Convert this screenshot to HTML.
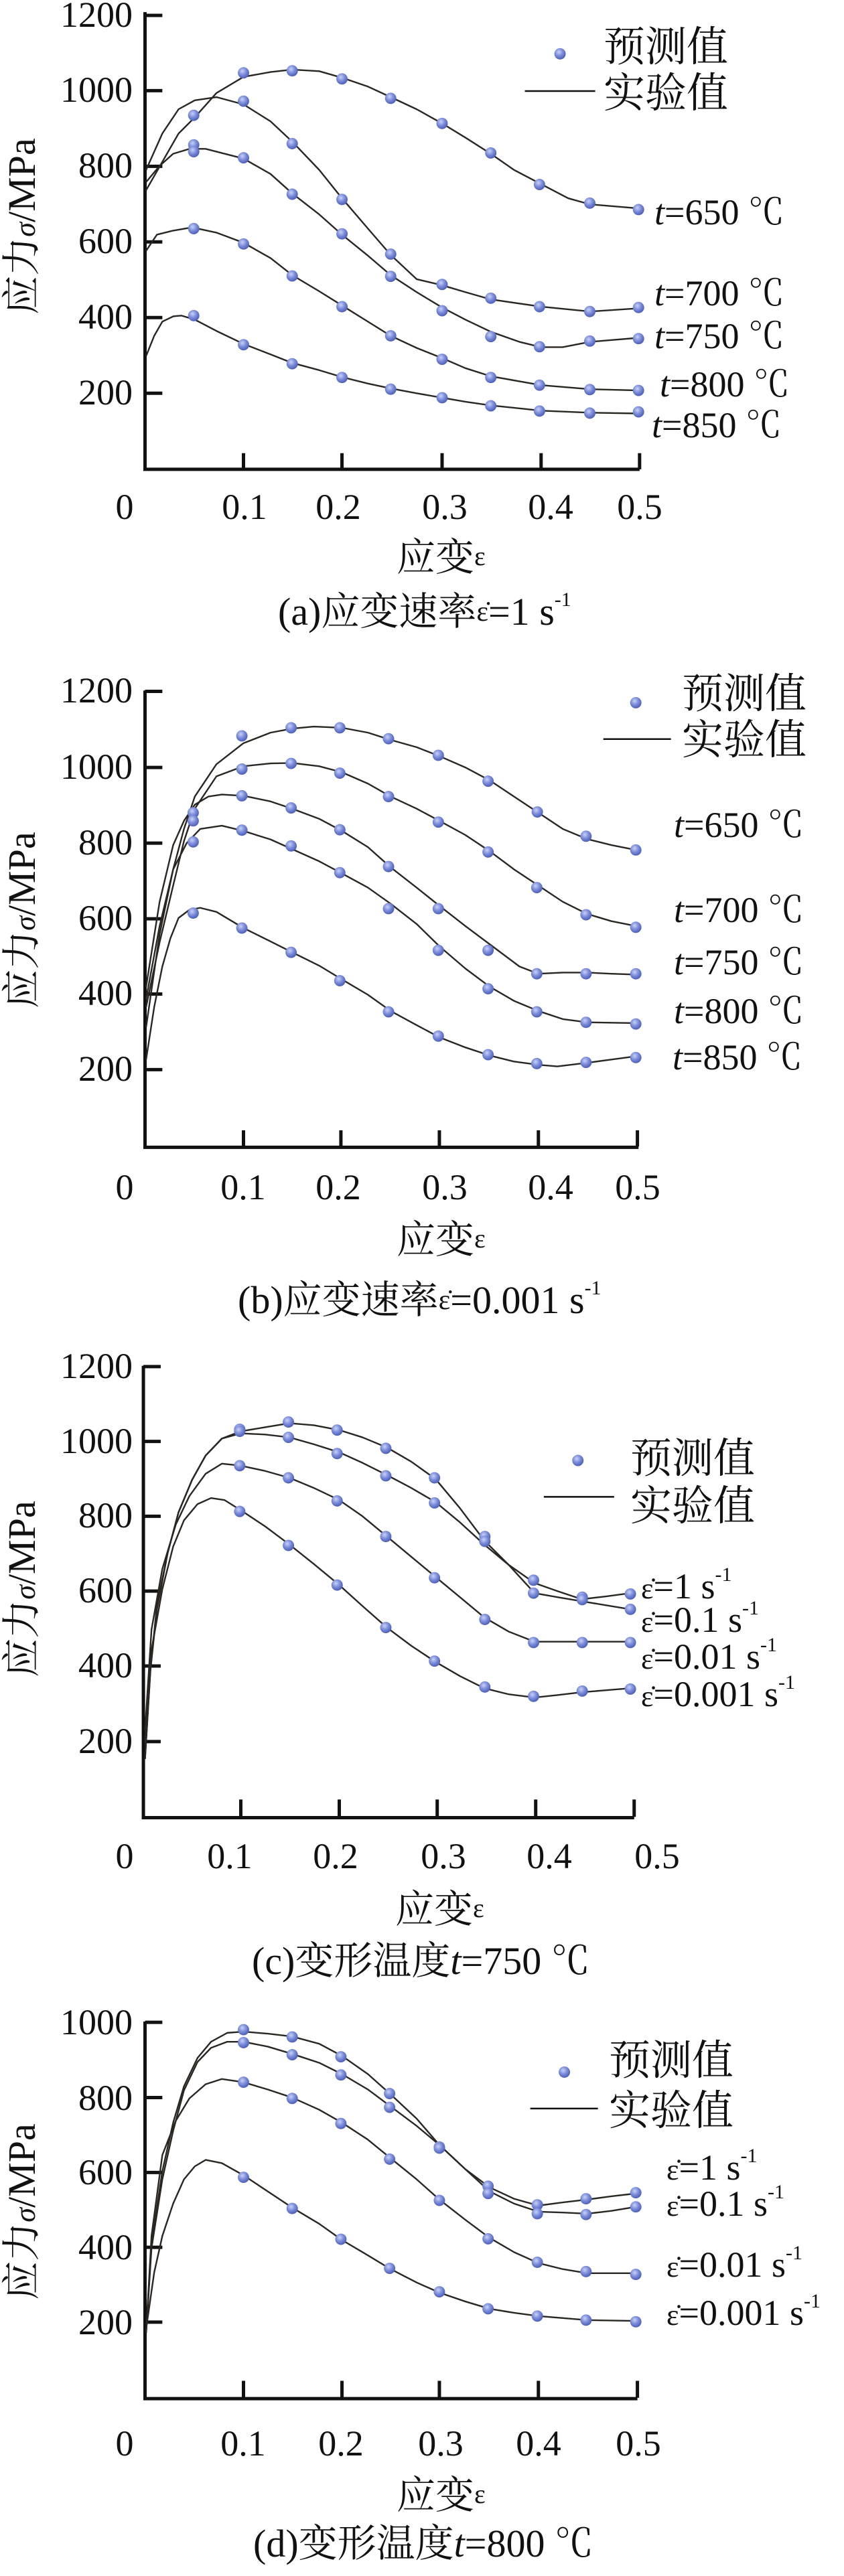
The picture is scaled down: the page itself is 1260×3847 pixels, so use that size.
<!DOCTYPE html>
<html><head><meta charset="utf-8"><style>
html,body{margin:0;padding:0;background:#fff}
svg{display:block}
text{font-family:"Liberation Serif","Noto Serif CJK SC",serif;fill:#111}
.ax{fill:none;stroke:#111;stroke-width:5;vector-effect:non-scaling-stroke}
.cv{fill:none;stroke:#2a2622;stroke-width:2.4;stroke-linejoin:round;vector-effect:non-scaling-stroke}
.tk{font-size:54px}
.lb{font-size:58px}
</style></head><body>
<svg width="1260" height="3847" viewBox="0 0 1260 3847" xmlns="http://www.w3.org/2000/svg">
<defs>
<radialGradient id="g" cx="0.4" cy="0.35" r="0.65">
<stop offset="0" stop-color="#c9d2f5"/><stop offset="0.5" stop-color="#7e8fdc"/><stop offset="1" stop-color="#4d5fb8"/>
</radialGradient>
</defs>

<!-- ============ PANEL A ============ -->
<g transform="translate(0,0) scale(0.8078,0.6042)">
<path class="ax" d="M268 30 V1160 H1182 M268 38 H300 M268 224 H300 M268 411 H300 M268 598 H300 M268 785 H300 M268 972 H300 M450 1120 V1160 M632 1120 V1160 M817 1120 V1160 M1000 1120 V1160 M1182 1120 V1160"/>
<polyline class="cv" points="270,470 300,400 330,330 360,290 400,230 450,190 500,178 540,172 590,176 632,192 680,214 722,240 770,270 817,305 860,340 907,380 950,420 1000,455 1050,490 1090,505 1180,515"/>
<polyline class="cv" points="270,420 300,330 330,270 360,248 400,240 450,258 500,300 540,350 590,420 632,490 680,565 722,630 770,690 817,705 860,722 907,740 1000,758 1090,770 1180,762"/>
<polyline class="cv" points="270,450 295,410 320,380 350,368 380,368 450,392 500,430 540,478 590,530 632,580 680,632 722,680 770,722 817,760 860,790 907,820 960,845 1000,858 1040,858 1090,845 1180,835"/>
<polyline class="cv" points="270,620 290,580 320,570 355,562 400,575 450,600 500,638 540,680 590,720 632,755 680,795 722,830 770,860 817,885 860,910 907,930 1000,952 1090,962 1180,965"/>
<polyline class="cv" points="270,880 285,830 300,795 320,782 335,780 360,790 400,818 450,850 500,876 540,897 590,915 632,932 680,948 722,960 770,972 817,983 860,993 907,1002 1000,1015 1090,1020 1180,1022"/>
<g fill="url(#g)">
<ellipse cx="358" cy="285" rx="10.5" ry="14"/><ellipse cx="358" cy="358" rx="10.5" ry="14"/><ellipse cx="358" cy="375" rx="10.5" ry="14"/><ellipse cx="358" cy="565" rx="10.5" ry="14"/><ellipse cx="358" cy="780" rx="10.5" ry="14"/>
<ellipse cx="450" cy="180" rx="10.5" ry="14"/><ellipse cx="540" cy="175" rx="10.5" ry="14"/><ellipse cx="632" cy="195" rx="10.5" ry="14"/><ellipse cx="722" cy="243" rx="10.5" ry="14"/><ellipse cx="817" cy="305" rx="10.5" ry="14"/><ellipse cx="907" cy="378" rx="10.5" ry="14"/><ellipse cx="997" cy="456" rx="10.5" ry="14"/><ellipse cx="1090" cy="502" rx="10.5" ry="14"/><ellipse cx="1180" cy="518" rx="10.5" ry="14"/>
<ellipse cx="450" cy="250" rx="10.5" ry="14"/><ellipse cx="540" cy="355" rx="10.5" ry="14"/><ellipse cx="632" cy="493" rx="10.5" ry="14"/><ellipse cx="722" cy="628" rx="10.5" ry="14"/><ellipse cx="817" cy="703" rx="10.5" ry="14"/><ellipse cx="907" cy="737" rx="10.5" ry="14"/><ellipse cx="997" cy="758" rx="10.5" ry="14"/><ellipse cx="1090" cy="770" rx="10.5" ry="14"/><ellipse cx="1180" cy="760" rx="10.5" ry="14"/>
<ellipse cx="450" cy="390" rx="10.5" ry="14"/><ellipse cx="540" cy="480" rx="10.5" ry="14"/><ellipse cx="632" cy="578" rx="10.5" ry="14"/><ellipse cx="722" cy="683" rx="10.5" ry="14"/><ellipse cx="817" cy="768" rx="10.5" ry="14"/><ellipse cx="907" cy="832" rx="10.5" ry="14"/><ellipse cx="997" cy="857" rx="10.5" ry="14"/><ellipse cx="1090" cy="843" rx="10.5" ry="14"/><ellipse cx="1180" cy="837" rx="10.5" ry="14"/>
<ellipse cx="450" cy="603" rx="10.5" ry="14"/><ellipse cx="540" cy="682" rx="10.5" ry="14"/><ellipse cx="632" cy="758" rx="10.5" ry="14"/><ellipse cx="722" cy="830" rx="10.5" ry="14"/><ellipse cx="817" cy="888" rx="10.5" ry="14"/><ellipse cx="907" cy="933" rx="10.5" ry="14"/><ellipse cx="997" cy="952" rx="10.5" ry="14"/><ellipse cx="1090" cy="963" rx="10.5" ry="14"/><ellipse cx="1180" cy="965" rx="10.5" ry="14"/>
<ellipse cx="450" cy="852" rx="10.5" ry="14"/><ellipse cx="540" cy="899" rx="10.5" ry="14"/><ellipse cx="632" cy="933" rx="10.5" ry="14"/><ellipse cx="722" cy="962" rx="10.5" ry="14"/><ellipse cx="817" cy="983" rx="10.5" ry="14"/><ellipse cx="907" cy="1003" rx="10.5" ry="14"/><ellipse cx="997" cy="1016" rx="10.5" ry="14"/><ellipse cx="1090" cy="1021" rx="10.5" ry="14"/><ellipse cx="1180" cy="1018" rx="10.5" ry="14"/>
<ellipse cx="1035" cy="133" rx="10.5" ry="14"/>
</g>
<path class="ax" style="stroke-width:2.5" d="M970 225 H1100"/>
</g>
<g class="tk" text-anchor="end">
<text x="198" y="40">1200</text><text x="198" y="152">1000</text><text x="198" y="265">800</text><text x="198" y="378">600</text><text x="198" y="491">400</text><text x="198" y="604">200</text>
</g>
<g class="tk" text-anchor="middle">
<text x="186" y="775">0</text><text x="365" y="775">0.1</text><text x="505" y="775">0.2</text><text x="664" y="775">0.3</text><text x="822" y="775">0.4</text><text x="955" y="775">0.5</text>
</g>
<g class="tk">
<text x="977" y="335"><tspan font-style="italic">t</tspan>=650 ℃</text>
<text x="977" y="456"><tspan font-style="italic">t</tspan>=700 ℃</text>
<text x="977" y="520"><tspan font-style="italic">t</tspan>=750 ℃</text>
<text x="985" y="592"><tspan font-style="italic">t</tspan>=800 ℃</text>
<text x="973" y="653"><tspan font-style="italic">t</tspan>=850 ℃</text>
</g>
<text class="lb" x="901" y="91" style="font-size:62px">预测值</text>
<text class="lb" x="901" y="160" style="font-size:62px">实验值</text>
<text class="lb" x="592" y="852">应变<tspan font-size="40" dy="-8">ε</tspan></text>
<text class="lb" x="415" y="933">(a)应变速率<tspan font-size="42" dy="-6">ε̇</tspan><tspan dy="6">=1 s</tspan><tspan font-size="30" dy="-28">-1</tspan></text>
<text class="lb" transform="translate(52,338) rotate(-90)" text-anchor="middle">应力<tspan font-style="italic" font-size="44">σ</tspan>/MPa</text>

<!-- ============ PANEL B ============ -->
<g transform="translate(0,960) scale(0.8078,0.6042)">
<path class="ax" d="M268 118 V1247 H1180 M268 120 H300 M268 308 H300 M268 495 H300 M268 682 H300 M268 868 H300 M268 1055 H300 M450 1205 V1245 M630 1205 V1245 M812 1205 V1245 M995 1205 V1245 M1178 1205 V1245"/>
<polyline class="cv" points="270,880 295,700 320,560 340,460 360,380 400,300 450,248 500,222 540,212 580,207 632,210 680,222 722,240 770,258 812,280 860,308 905,340 950,380 995,420 1040,460 1085,485 1130,500 1175,512"/>
<polyline class="cv" points="270,900 295,740 320,600 340,490 360,410 400,330 450,305 500,298 540,297 590,305 632,320 680,348 722,380 770,410 812,440 860,475 905,515 950,560 995,600 1040,640 1085,670 1130,688 1175,700"/>
<polyline class="cv" points="270,850 295,640 320,500 340,440 360,400 385,380 410,375 450,378 500,392 540,410 590,435 632,465 680,505 722,555 770,605 812,650 860,700 905,745 960,800 995,818 1040,815 1085,815 1130,818 1175,820"/>
<polyline class="cv" points="270,950 295,720 320,560 345,495 370,460 410,452 450,465 500,486 540,510 590,540 632,570 680,605 722,645 770,695 812,750 860,805 905,850 950,885 995,910 1040,930 1085,938 1175,940"/>
<polyline class="cv" points="270,1030 285,900 300,800 315,730 330,680 350,660 370,655 400,665 450,705 500,738 540,765 590,798 632,832 680,870 722,910 770,945 812,975 860,1000 905,1020 950,1035 995,1043 1030,1047 1085,1038 1130,1030 1175,1022"/>
<g fill="url(#g)">
<ellipse cx="357" cy="420" rx="10.5" ry="14"/><ellipse cx="357" cy="440" rx="10.5" ry="14"/><ellipse cx="357" cy="492" rx="10.5" ry="14"/><ellipse cx="357" cy="668" rx="10.5" ry="14"/>
<ellipse cx="447" cy="230" rx="10.5" ry="14"/><ellipse cx="538" cy="210" rx="10.5" ry="14"/><ellipse cx="628" cy="210" rx="10.5" ry="14"/><ellipse cx="718" cy="237" rx="10.5" ry="14"/><ellipse cx="810" cy="278" rx="10.5" ry="14"/><ellipse cx="902" cy="342" rx="10.5" ry="14"/><ellipse cx="993" cy="418" rx="10.5" ry="14"/><ellipse cx="1083" cy="478" rx="10.5" ry="14"/><ellipse cx="1175" cy="512" rx="10.5" ry="14"/>
<ellipse cx="447" cy="312" rx="10.5" ry="14"/><ellipse cx="538" cy="298" rx="10.5" ry="14"/><ellipse cx="628" cy="322" rx="10.5" ry="14"/><ellipse cx="718" cy="380" rx="10.5" ry="14"/><ellipse cx="810" cy="443" rx="10.5" ry="14"/><ellipse cx="902" cy="517" rx="10.5" ry="14"/><ellipse cx="992" cy="605" rx="10.5" ry="14"/><ellipse cx="1083" cy="672" rx="10.5" ry="14"/><ellipse cx="1175" cy="703" rx="10.5" ry="14"/>
<ellipse cx="447" cy="378" rx="10.5" ry="14"/><ellipse cx="538" cy="408" rx="10.5" ry="14"/><ellipse cx="628" cy="462" rx="10.5" ry="14"/><ellipse cx="718" cy="553" rx="10.5" ry="14"/><ellipse cx="810" cy="657" rx="10.5" ry="14"/><ellipse cx="902" cy="760" rx="10.5" ry="14"/><ellipse cx="992" cy="818" rx="10.5" ry="14"/><ellipse cx="1083" cy="818" rx="10.5" ry="14"/><ellipse cx="1175" cy="818" rx="10.5" ry="14"/>
<ellipse cx="447" cy="463" rx="10.5" ry="14"/><ellipse cx="538" cy="502" rx="10.5" ry="14"/><ellipse cx="628" cy="568" rx="10.5" ry="14"/><ellipse cx="718" cy="657" rx="10.5" ry="14"/><ellipse cx="810" cy="760" rx="10.5" ry="14"/><ellipse cx="902" cy="855" rx="10.5" ry="14"/><ellipse cx="992" cy="912" rx="10.5" ry="14"/><ellipse cx="1083" cy="938" rx="10.5" ry="14"/><ellipse cx="1175" cy="942" rx="10.5" ry="14"/>
<ellipse cx="447" cy="705" rx="10.5" ry="14"/><ellipse cx="538" cy="765" rx="10.5" ry="14"/><ellipse cx="628" cy="835" rx="10.5" ry="14"/><ellipse cx="718" cy="912" rx="10.5" ry="14"/><ellipse cx="810" cy="972" rx="10.5" ry="14"/><ellipse cx="902" cy="1018" rx="10.5" ry="14"/><ellipse cx="992" cy="1040" rx="10.5" ry="14"/><ellipse cx="1083" cy="1037" rx="10.5" ry="14"/><ellipse cx="1175" cy="1025" rx="10.5" ry="14"/>
<ellipse cx="1175" cy="148" rx="10.5" ry="14"/>
</g>
<path class="ax" style="stroke-width:2.5" d="M1115 238 H1240"/>
</g>
<g class="tk" text-anchor="end">
<text x="198" y="1049">1200</text><text x="198" y="1163">1000</text><text x="198" y="1276">800</text><text x="198" y="1389">600</text><text x="198" y="1501">400</text><text x="198" y="1614">200</text>
</g>
<g class="tk" text-anchor="middle">
<text x="186" y="1791">0</text><text x="363" y="1791">0.1</text><text x="505" y="1791">0.2</text><text x="664" y="1791">0.3</text><text x="822" y="1791">0.4</text><text x="952" y="1791">0.5</text>
</g>
<g class="tk">
<text x="1006" y="1250"><tspan font-style="italic">t</tspan>=650 ℃</text>
<text x="1006" y="1377"><tspan font-style="italic">t</tspan>=700 ℃</text>
<text x="1006" y="1455"><tspan font-style="italic">t</tspan>=750 ℃</text>
<text x="1006" y="1528"><tspan font-style="italic">t</tspan>=800 ℃</text>
<text x="1004" y="1597"><tspan font-style="italic">t</tspan>=850 ℃</text>
</g>
<text class="lb" x="1018" y="1057" style="font-size:62px">预测值</text>
<text class="lb" x="1018" y="1126" style="font-size:62px">实验值</text>
<text class="lb" x="592" y="1871">应变<tspan font-size="40" dy="-8">ε</tspan></text>
<text class="lb" x="355" y="1961">(b)应变速率<tspan font-size="42" dy="-6">ε̇</tspan><tspan dy="6">=0.001 s</tspan><tspan font-size="30" dy="-28">-1</tspan></text>
<text class="lb" transform="translate(52,1374) rotate(-90)" text-anchor="middle">应力<tspan font-style="italic" font-size="44">σ</tspan>/MPa</text>

<!-- ============ PANEL C ============ -->
<g transform="translate(0,1920) scale(0.8078,0.6042)">
<path class="ax" d="M265 198 V1315 H1172 M265 200 H297 M265 385 H297 M265 570 H297 M265 755 H297 M265 940 H297 M265 1127 H297 M445 1270 V1313 M627 1270 V1313 M808 1270 V1313 M990 1270 V1313 M1172 1270 V1313"/>
<polyline class="cv" points="268,1170 278,950 290,800 310,660 330,560 355,480 380,420 410,378 445,360 490,350 535,340 580,345 627,357 670,375 715,400 760,435 805,478 850,550 895,630 940,690 988,735 1030,755 1075,775 1120,768 1165,760"/>
<polyline class="cv" points="268,1170 278,950 290,790 310,660 330,560 355,480 380,420 410,378 445,365 490,368 535,375 580,392 627,412 670,438 715,468 760,500 805,535 850,585 895,640 940,690 988,760 1030,770 1075,780 1120,790 1165,800"/>
<polyline class="cv" points="268,1100 280,850 300,700 325,590 350,520 380,465 410,440 445,445 490,458 535,475 580,500 627,530 670,570 715,620 760,670 805,720 850,770 895,820 940,855 988,880 1075,880 1165,880"/>
<polyline class="cv" points="268,1130 280,900 300,750 320,645 340,580 365,540 390,525 415,530 445,555 490,595 535,640 580,688 627,740 670,792 715,845 760,890 805,930 850,965 895,995 940,1010 988,1018 1030,1012 1075,1005 1120,1000 1165,995"/>
<g fill="url(#g)">
<ellipse cx="443" cy="355" rx="10.5" ry="14"/><ellipse cx="533" cy="337" rx="10.5" ry="14"/><ellipse cx="623" cy="357" rx="10.5" ry="14"/><ellipse cx="713" cy="402" rx="10.5" ry="14"/><ellipse cx="803" cy="475" rx="10.5" ry="14"/><ellipse cx="896" cy="620" rx="10.5" ry="14"/><ellipse cx="986" cy="728" rx="10.5" ry="14"/><ellipse cx="1076" cy="770" rx="10.5" ry="14"/><ellipse cx="1165" cy="762" rx="10.5" ry="14"/>
<ellipse cx="443" cy="360" rx="10.5" ry="14"/><ellipse cx="533" cy="375" rx="10.5" ry="14"/><ellipse cx="623" cy="415" rx="10.5" ry="14"/><ellipse cx="713" cy="470" rx="10.5" ry="14"/><ellipse cx="803" cy="537" rx="10.5" ry="14"/><ellipse cx="896" cy="632" rx="10.5" ry="14"/><ellipse cx="986" cy="760" rx="10.5" ry="14"/><ellipse cx="1076" cy="776" rx="10.5" ry="14"/><ellipse cx="1165" cy="800" rx="10.5" ry="14"/>
<ellipse cx="443" cy="445" rx="10.5" ry="14"/><ellipse cx="533" cy="475" rx="10.5" ry="14"/><ellipse cx="623" cy="532" rx="10.5" ry="14"/><ellipse cx="713" cy="620" rx="10.5" ry="14"/><ellipse cx="803" cy="722" rx="10.5" ry="14"/><ellipse cx="896" cy="825" rx="10.5" ry="14"/><ellipse cx="986" cy="882" rx="10.5" ry="14"/><ellipse cx="1076" cy="882" rx="10.5" ry="14"/><ellipse cx="1165" cy="882" rx="10.5" ry="14"/>
<ellipse cx="443" cy="558" rx="10.5" ry="14"/><ellipse cx="533" cy="642" rx="10.5" ry="14"/><ellipse cx="623" cy="740" rx="10.5" ry="14"/><ellipse cx="713" cy="845" rx="10.5" ry="14"/><ellipse cx="803" cy="928" rx="10.5" ry="14"/><ellipse cx="896" cy="992" rx="10.5" ry="14"/><ellipse cx="986" cy="1015" rx="10.5" ry="14"/><ellipse cx="1076" cy="1002" rx="10.5" ry="14"/><ellipse cx="1165" cy="997" rx="10.5" ry="14"/>
<ellipse cx="1068" cy="432" rx="10.5" ry="14"/>
</g>
<path class="ax" style="stroke-width:2.5" d="M1005 522 H1135"/>
</g>
<g class="tk" text-anchor="end">
<text x="198" y="2058">1200</text><text x="198" y="2170">1000</text><text x="198" y="2281">800</text><text x="198" y="2393">600</text><text x="198" y="2505">400</text><text x="198" y="2618">200</text>
</g>
<g class="tk" text-anchor="middle">
<text x="186" y="2790">0</text><text x="343" y="2790">0.1</text><text x="501" y="2790">0.2</text><text x="662" y="2790">0.3</text><text x="820" y="2790">0.4</text><text x="981" y="2790">0.5</text>
</g>
<g class="tk">
<text x="957" y="2387"><tspan font-size="44">ε̇</tspan>=1 s<tspan font-size="30" dy="-26">-1</tspan></text>
<text x="957" y="2437"><tspan font-size="44">ε̇</tspan>=0.1 s<tspan font-size="30" dy="-26">-1</tspan></text>
<text x="957" y="2492"><tspan font-size="44">ε̇</tspan>=0.01 s<tspan font-size="30" dy="-26">-1</tspan></text>
<text x="957" y="2548"><tspan font-size="44">ε̇</tspan>=0.001 s<tspan font-size="30" dy="-26">-1</tspan></text>
</g>
<text class="lb" x="941" y="2199" style="font-size:62px">预测值</text>
<text class="lb" x="941" y="2270" style="font-size:62px">实验值</text>
<text class="lb" x="590" y="2871">应变<tspan font-size="40" dy="-8">ε</tspan></text>
<text class="lb" x="376" y="2948">(c)变形温度<tspan font-style="italic">t</tspan>=750 ℃</text>
<text class="lb" transform="translate(52,2373) rotate(-90)" text-anchor="middle">应力<tspan font-style="italic" font-size="44">σ</tspan>/MPa</text>

<!-- ============ PANEL D ============ -->
<g transform="translate(0,2880) scale(0.8078,0.6042)">
<path class="ax" d="M268 230 V1162 H1178 M268 232 H300 M268 418 H300 M268 603 H300 M268 788 H300 M268 973 H300 M450 1118 V1160 M632 1118 V1160 M812 1118 V1160 M995 1118 V1160 M1178 1118 V1160"/>
<polyline class="cv" points="270,1000 280,780 300,600 320,480 340,390 365,320 390,280 420,258 450,255 495,260 540,267 590,285 632,315 680,360 722,410 770,470 812,535 860,595 905,640 950,668 995,685 1040,677 1085,670 1130,662 1175,655"/>
<polyline class="cv" points="270,1000 280,790 300,620 320,500 340,400 365,330 390,295 420,280 450,280 495,292 540,310 590,332 632,360 680,398 722,440 770,488 812,535 860,595 905,650 950,680 995,700 1040,702 1085,705 1130,698 1175,688"/>
<polyline class="cv" points="270,1000 280,760 300,560 325,475 350,420 380,385 410,372 450,380 495,398 540,418 590,448 632,480 680,522 722,568 770,620 812,670 860,720 905,765 950,800 995,827 1040,842 1085,852 1175,852"/>
<polyline class="cv" points="270,990 285,850 300,760 320,680 340,620 360,588 380,572 410,580 450,610 495,650 540,690 590,730 632,770 680,808 722,842 770,875 812,900 860,922 905,940 950,950 995,958 1040,963 1085,968 1175,970"/>
<g fill="url(#g)">
<ellipse cx="450" cy="250" rx="10.5" ry="14"/><ellipse cx="540" cy="268" rx="10.5" ry="14"/><ellipse cx="630" cy="317" rx="10.5" ry="14"/><ellipse cx="720" cy="408" rx="10.5" ry="14"/><ellipse cx="812" cy="540" rx="10.5" ry="14"/><ellipse cx="902" cy="637" rx="10.5" ry="14"/><ellipse cx="993" cy="683" rx="10.5" ry="14"/><ellipse cx="1083" cy="668" rx="10.5" ry="14"/><ellipse cx="1175" cy="653" rx="10.5" ry="14"/>
<ellipse cx="450" cy="282" rx="10.5" ry="14"/><ellipse cx="540" cy="312" rx="10.5" ry="14"/><ellipse cx="630" cy="362" rx="10.5" ry="14"/><ellipse cx="720" cy="442" rx="10.5" ry="14"/><ellipse cx="812" cy="543" rx="10.5" ry="14"/><ellipse cx="902" cy="655" rx="10.5" ry="14"/><ellipse cx="993" cy="705" rx="10.5" ry="14"/><ellipse cx="1083" cy="707" rx="10.5" ry="14"/><ellipse cx="1175" cy="688" rx="10.5" ry="14"/>
<ellipse cx="450" cy="380" rx="10.5" ry="14"/><ellipse cx="540" cy="420" rx="10.5" ry="14"/><ellipse cx="630" cy="482" rx="10.5" ry="14"/><ellipse cx="720" cy="570" rx="10.5" ry="14"/><ellipse cx="812" cy="672" rx="10.5" ry="14"/><ellipse cx="902" cy="767" rx="10.5" ry="14"/><ellipse cx="993" cy="825" rx="10.5" ry="14"/><ellipse cx="1083" cy="848" rx="10.5" ry="14"/><ellipse cx="1175" cy="855" rx="10.5" ry="14"/>
<ellipse cx="450" cy="615" rx="10.5" ry="14"/><ellipse cx="540" cy="692" rx="10.5" ry="14"/><ellipse cx="630" cy="768" rx="10.5" ry="14"/><ellipse cx="720" cy="840" rx="10.5" ry="14"/><ellipse cx="812" cy="898" rx="10.5" ry="14"/><ellipse cx="902" cy="940" rx="10.5" ry="14"/><ellipse cx="993" cy="958" rx="10.5" ry="14"/><ellipse cx="1083" cy="968" rx="10.5" ry="14"/><ellipse cx="1175" cy="972" rx="10.5" ry="14"/>
<ellipse cx="1043" cy="355" rx="10.5" ry="14"/>
</g>
<path class="ax" style="stroke-width:2.5" d="M980 445 H1105"/>
</g>
<g class="tk" text-anchor="end">
<text x="198" y="3038">1000</text><text x="198" y="3151">800</text><text x="198" y="3262">600</text><text x="198" y="3374">400</text><text x="198" y="3486">200</text>
</g>
<g class="tk" text-anchor="middle">
<text x="186" y="3667">0</text><text x="363" y="3667">0.1</text><text x="509" y="3667">0.2</text><text x="658" y="3667">0.3</text><text x="804" y="3667">0.4</text><text x="953" y="3667">0.5</text>
</g>
<g class="tk">
<text x="995" y="3255"><tspan font-size="44">ε̇</tspan>=1 s<tspan font-size="30" dy="-26">-1</tspan></text>
<text x="995" y="3309"><tspan font-size="44">ε̇</tspan>=0.1 s<tspan font-size="30" dy="-26">-1</tspan></text>
<text x="995" y="3400"><tspan font-size="44">ε̇</tspan>=0.01 s<tspan font-size="30" dy="-26">-1</tspan></text>
<text x="995" y="3472"><tspan font-size="44">ε̇</tspan>=0.001 s<tspan font-size="30" dy="-26">-1</tspan></text>
</g>
<text class="lb" x="909" y="3098" style="font-size:62px">预测值</text>
<text class="lb" x="909" y="3173" style="font-size:62px">实验值</text>
<text class="lb" x="592" y="3746">应变<tspan font-size="40" dy="-8">ε</tspan></text>
<text class="lb" x="378" y="3818">(d)变形温度<tspan font-style="italic">t</tspan>=800 ℃</text>
<text class="lb" transform="translate(52,3303) rotate(-90)" text-anchor="middle">应力<tspan font-style="italic" font-size="44">σ</tspan>/MPa</text>
</svg>
</body></html>
